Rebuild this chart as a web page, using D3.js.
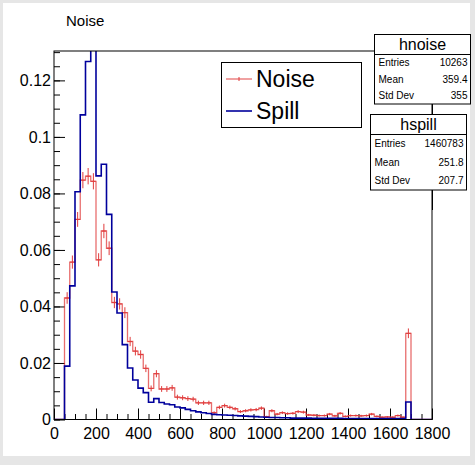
<!DOCTYPE html>
<html>
<head>
<meta charset="utf-8">
<script src="https://cdn.jsdelivr.net/npm/d3@7"></script>
<style>
  body { margin: 0; background: #e6e6e6; }
  svg { display: block; font-family: "Liberation Sans", Arial, sans-serif; }
</style>
</head>
<body>
<div class="chart"></div>
<script>
// histogram bins: 0..1800, 25 wide
var binWidth = 25;
var binLow = d3.range(0, 1800, binWidth);

var noiseValues = [
    0, 0, 0.0430, 0.0557, 0.0708, 0.0847, 0.0861, 0.0843, 0.0565, 0.0667,
    0.0606, 0.0414, 0.0409, 0.0378, 0.0276, 0.0242, 0.0230, 0.0181, 0.0110, 0.0162,
    0.0108, 0.0108, 0.0112, 0.0079, 0.0077, 0.0074, 0.0072, 0.0059, 0.0059, 0.0059,
    0.0024, 0.0043, 0.0049, 0.0043, 0.0038, 0.0028, 0.0031, 0.0034, 0.0035, 0.0040,
    0.0010, 0.0031, 0.0019, 0.0024, 0.0021, 0.0022, 0.0028, 0.0026, 0.0016, 0.0015,
    0.0014, 0.0014, 0.0019, 0.0013, 0.0022, 0.0011, 0.0014, 0.0014, 0.0013, 0.0014,
    0.0019, 0.0011, 0.0008, 0.0009, 0.0008, 0.0014, 0.0008, 0.0305, 0, 0,
    0, 0
];

var spillValues = [
    0, 0, 0.0189, 0.0473, 0.0806, 0.1078, 0.1267, 0.1450, 0.0862, 0.0903,
    0.0726, 0.0451, 0.0377, 0.0265, 0.0182, 0.0140, 0.0111, 0.0095, 0.0061, 0.0074,
    0.0060, 0.0055, 0.0052, 0.0044, 0.0041, 0.0036, 0.0031, 0.0027, 0.0024, 0.0021,
    0.0018, 0.0017, 0.0016, 0.0015, 0.0014, 0.0013, 0.0012, 0.0011, 0.0010, 0.0009,
    0.0008, 0.0007, 0.0007, 0.0006, 0.0006, 0.0005, 0.0005, 0.0005, 0.0005, 0.0004,
    0.0004, 0.0004, 0.0004, 0.0004, 0.0004, 0.0003, 0.0003, 0.0003, 0.0003, 0.0003,
    0.0003, 0.0003, 0.0003, 0.0003, 0.0003, 0.0003, 0.0003, 0.0062, 0, 0,
    0, 0
];

var xTicks = d3.range(0, 1801, 200);
var xMinorTicks = d3.range(0, 1801, 50);
var yTicks = [0, 0.02, 0.04, 0.06, 0.08, 0.1, 0.12];
var yMinorTicks = d3.range(0, 0.1301, 0.005);

var legendLabels = ["Noise", "Spill"];
var statRows = ["Entries", "Mean", "Std Dev"];
var noiseStats = ["10263", "359.4", "355"];
var spillStats = ["1460783", "251.8", "207.7"];
var noiseEntries = 10263;

var svgWidth = 475;
var svgHeight = 465;

var margin = { top: 51, right: 43, bottom: 46, left: 54 };
var chartWidth = svgWidth - margin.left - margin.right;
var chartHeight = 419.5 - margin.top;

var redColor = "#e03c3c";
var blueColor = "#00009c";

var svg = d3.select(".chart")
    .append("svg")
    .attr("width", svgWidth)
    .attr("height", svgHeight);

// pad
svg.append("rect")
    .attr("x", 3).attr("y", 3)
    .attr("width", 467).attr("height", 453)
    .attr("fill", "white");

var chart = svg.append("g")
    .attr("transform", "translate(" + margin.left + "," + margin.top + ")");

var xScale = d3.scaleLinear().domain([0, 1800]).range([0, chartWidth]);
var yScale = d3.scaleLinear().domain([0, 0.1304]).range([chartHeight, 0]);

chart.append("clipPath")
    .attr("id", "frameClip")
    .append("rect")
    .attr("width", chartWidth)
    .attr("height", chartHeight);

// axes (ROOT style: ticks point into the frame)
chart.append("g")
    .attr("transform", "translate(0," + chartHeight + ")")
    .call(d3.axisBottom(xScale).tickValues(xMinorTicks).tickSize(-5.5).tickFormat(""))
    .call(function(g) { g.select(".domain").remove(); });

chart.append("g")
    .attr("class", "xaxis")
    .attr("transform", "translate(0," + chartHeight + ")")
    .call(d3.axisBottom(xScale).tickValues(xTicks).tickSize(-11).tickPadding(8).tickFormat(d3.format("d")))
    .call(function(g) { g.select(".domain").remove(); });

chart.append("g")
    .call(d3.axisLeft(yScale).tickValues(yMinorTicks).tickSize(-6).tickFormat(""))
    .call(function(g) { g.select(".domain").remove(); });

chart.append("g")
    .attr("class", "yaxis")
    .call(d3.axisLeft(yScale).tickValues(yTicks).tickSize(-11).tickPadding(3)
        .tickFormat(function(d) { return d === 0 ? "0" : String(+d.toFixed(2)); }))
    .call(function(g) { g.select(".domain").remove(); });

chart.selectAll(".tick line").attr("stroke", "#000");
chart.selectAll(".xaxis text, .yaxis text")
    .attr("fill", "#000")
    .style("font-size", "16px")
    .style("font-family", "'Liberation Sans', Arial, sans-serif");

// histograms
function stepPoints(values) {
    var pts = binLow.map(function(x, i) { return [x, values[i]]; });
    pts.push([1800, values[values.length - 1]]);
    return pts;
}

var stepLine = d3.line()
    .x(function(d) { return xScale(d[0]); })
    .y(function(d) { return yScale(d[1]); })
    .curve(d3.curveStepAfter);

var plot = chart.append("g").attr("clip-path", "url(#frameClip)");

plot.append("path")
    .datum(stepPoints(noiseValues))
    .attr("d", stepLine)
    .attr("fill", "none")
    .attr("stroke", redColor)
    .attr("stroke-opacity", 0.75)
    .attr("stroke-width", 1.3);

var noiseBins = binLow.map(function(x, i) {
    return { x: x + binWidth / 2, v: noiseValues[i], e: Math.sqrt(noiseValues[i] / noiseEntries) };
}).filter(function(d) { return d.v > 0; });

plot.selectAll(".errbar")
    .data(noiseBins)
    .enter()
    .append("line")
    .attr("class", "errbar")
    .attr("x1", function(d) { return xScale(d.x); })
    .attr("x2", function(d) { return xScale(d.x); })
    .attr("y1", function(d) { return yScale(d.v - d.e); })
    .attr("y2", function(d) { return yScale(d.v + d.e); })
    .attr("stroke", redColor)
    .attr("stroke-width", 1);

plot.selectAll(".errmark")
    .data(noiseBins)
    .enter()
    .append("line")
    .attr("class", "errmark")
    .attr("x1", function(d) { return xScale(d.x) - 2.5; })
    .attr("x2", function(d) { return xScale(d.x) + 2.5; })
    .attr("y1", function(d) { return yScale(d.v); })
    .attr("y2", function(d) { return yScale(d.v); })
    .attr("stroke", redColor)
    .attr("stroke-width", 1);

plot.append("path")
    .datum(stepPoints(spillValues))
    .attr("d", stepLine)
    .attr("fill", "none")
    .attr("stroke", blueColor)
    .attr("stroke-width", 1.6);

// frame
chart.append("rect")
    .attr("width", chartWidth)
    .attr("height", chartHeight)
    .attr("fill", "none")
    .attr("stroke", "#000")
    .attr("stroke-width", 1);

// title
svg.append("text")
    .attr("x", 66)
    .attr("y", 26)
    .style("font-size", "15px")
    .text("Noise");

// legend
var legend = svg.append("g");
legend.append("rect")
    .attr("x", 221.5).attr("y", 62.5)
    .attr("width", 140).attr("height", 65)
    .attr("fill", "white").attr("stroke", "#000");

var legendColors = [redColor, blueColor];
legendLabels.forEach(function(label, i) {
    var y = 79 + i * 32;
    legend.append("line")
        .attr("x1", 226).attr("x2", 252)
        .attr("y1", y).attr("y2", y)
        .attr("stroke", legendColors[i])
        .attr("stroke-opacity", i === 0 ? 0.75 : 1)
        .attr("stroke-width", i === 0 ? 1.3 : 1.6);
    if (i === 0) {
        legend.append("line")
            .attr("x1", 239).attr("x2", 239)
            .attr("y1", y - 2).attr("y2", y + 2)
            .attr("stroke", redColor);
    }
    legend.append("text")
        .attr("x", 256)
        .attr("y", y)
        .attr("dy", "0.36em")
        .style("font-size", "23px")
        .text(label);
});

// stat boxes
function statBox(name, values, x, y, w, headH, rowH) {
    var g = svg.append("g");
    g.append("rect")
        .attr("x", x).attr("y", y)
        .attr("width", w).attr("height", headH + rowH * 3)
        .attr("fill", "white").attr("stroke", "#000");
    g.append("line")
        .attr("x1", x).attr("x2", x + w)
        .attr("y1", y + headH).attr("y2", y + headH)
        .attr("stroke", "#000");
    g.append("text")
        .attr("x", x + w / 2)
        .attr("y", y + headH / 2)
        .attr("dy", "0.35em")
        .attr("text-anchor", "middle")
        .style("font-size", "16px")
        .text(name);
    statRows.forEach(function(r, i) {
        var cy = y + headH + rowH * (i + 0.5);
        g.append("text")
            .attr("x", x + 4).attr("y", cy).attr("dy", "0.35em")
            .style("font-size", "10px")
            .text(r);
        g.append("text")
            .attr("x", x + w - 3).attr("y", cy).attr("dy", "0.35em")
            .attr("text-anchor", "end")
            .style("font-size", "10px")
            .text(values[i]);
    });
}

// frame right edge continues between the boxes
svg.append("line")
    .attr("x1", 432.5).attr("x2", 432.5)
    .attr("y1", 51).attr("y2", 210)
    .attr("stroke", "#000");

statBox("hnoise", noiseStats, 374.5, 34.5, 96, 20, 16.5);
statBox("hspill", spillStats, 370.5, 114.5, 96, 20, 18.5);
</script>
</body>
</html>
